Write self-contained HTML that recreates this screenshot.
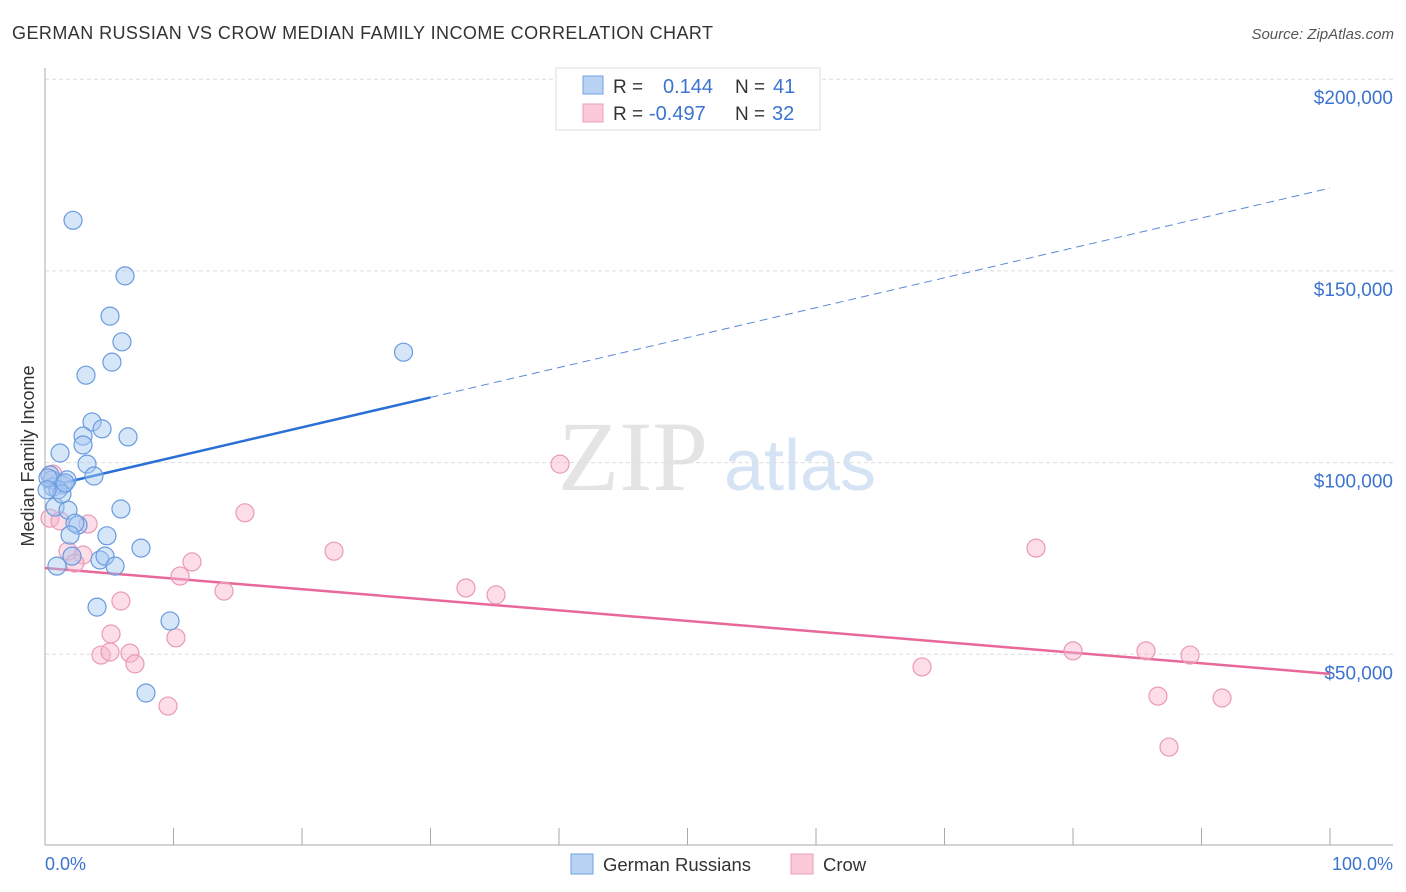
<!DOCTYPE html>
<html><head><meta charset="utf-8"><style>
body{margin:0;background:#fff;font-family:"Liberation Sans",sans-serif;}
#wrap{position:relative;width:1406px;height:892px;overflow:hidden;}
</style></head><body>
<div id="wrap">
<svg id="svg" width="1406" height="892" xmlns="http://www.w3.org/2000/svg">
<text x="12" y="39" font-size="18" fill="#333" textLength="701">GERMAN RUSSIAN VS CROW MEDIAN FAMILY INCOME CORRELATION CHART</text>
<text x="1394" y="39" font-size="15" fill="#555" font-style="italic" text-anchor="end">Source: ZipAtlas.com</text>
<text x="633" y="490" font-size="100" fill="#e4e4e4" font-family="Liberation Serif,serif" text-anchor="middle">ZIP</text>
<text x="800" y="490" font-size="72" fill="#d6e3f5" text-anchor="middle">atlas</text>
<text transform="translate(34,456) rotate(-90)" font-size="18" fill="#333" text-anchor="middle">Median Family Income</text>
<g id="grid"></g><g id="axes"></g><g id="trend"></g><g id="pts"></g>
<g>
<rect x="556" y="68" width="264" height="62" fill="#fff" stroke="#ddd"/>
<rect x="583" y="76" width="20" height="18" fill="#b9d3f5" stroke="#6f9fe0"/>
<rect x="583" y="104" width="20" height="18" fill="#fbc9d8" stroke="#ec9fb8"/>
<text y="93" font-size="19" fill="#333"><tspan x="613">R =</tspan><tspan x="663" fill="#3b73d0" font-size="20">0.144</tspan><tspan x="735">N =</tspan><tspan x="773" fill="#3b73d0" font-size="20">41</tspan></text>
<text y="120" font-size="19" fill="#333"><tspan x="613">R =</tspan><tspan x="649" fill="#3b73d0" font-size="20">-0.497</tspan><tspan x="735">N =</tspan><tspan x="772" fill="#3b73d0" font-size="20">32</tspan></text>
</g>
<text x="45" y="870" font-size="18" fill="#3b73d0">0.0%</text>
<text x="1393" y="870" font-size="18" fill="#3b73d0" text-anchor="end">100.0%</text>
<rect x="571" y="854" width="22" height="20" fill="#b9d3f5" stroke="#6f9fe0"/>
<text x="603" y="871" font-size="18.5" fill="#333">German Russians</text>
<rect x="791" y="854" width="22" height="20" fill="#fbc9d8" stroke="#ec9fb8"/>
<text x="823" y="871" font-size="18.5" fill="#333">Crow</text>
</svg>
</div>
<script>
const yTicks=[50,100,150,200];
const yTickLabels=["$50,000","$100,000","$150,000","$200,000"];
const blueX=[2.18,6.23,5.06,5.99,5.21,3.19,27.9,3.66,4.44,2.96,2.96,6.46,1.17,3.27,3.81,0.54,1.40,0.62,0.39,1.71,1.01,0.78,1.79,5.91,2.57,2.33,1.95,4.82,7.47,2.10,0.93,4.28,4.67,5.45,4.05,9.73,7.86,0.23,1.32,0.16,1.56];
const blueY=[163.2,148.7,138.2,131.5,126.2,122.8,128.8,110.6,108.8,106.9,104.6,106.7,102.5,99.6,96.5,95.5,94.2,93.6,96.8,95.5,92.9,88.4,87.6,87.9,83.7,84.2,81.1,80.9,77.7,75.6,73.0,74.6,75.6,73.0,62.3,58.7,39.9,96.0,91.8,92.9,94.7];
const pinkX=[0.62,1.01,0.39,1.17,3.35,1.79,2.96,2.33,15.56,40.08,22.49,77.12,11.44,10.51,13.93,32.76,35.10,5.91,5.14,10.19,4.36,5.06,6.61,7.00,68.25,80.0,85.68,89.11,86.61,91.60,9.57,87.47];
const pinkY=[97.0,94.7,85.5,84.8,84.0,76.9,75.9,73.8,86.9,99.6,76.9,77.7,74.1,70.4,66.5,67.3,65.5,63.9,55.3,54.3,49.8,50.6,50.3,47.5,46.7,50.9,50.9,49.8,39.1,38.6,36.5,25.8];
const blueTrend=[93.6,171.6];
const pinkTrend=[72.5,44.9];
const NS="http://www.w3.org/2000/svg";
const X=v=>45+v*12.85;
const Y=v=>846-v*3.834;
function mk(tag,attrs,parent){const e=document.createElementNS(NS,tag);for(const k in attrs)e.setAttribute(k,attrs[k]);parent.appendChild(e);return e;}
const grid=document.getElementById('grid'),axes=document.getElementById('axes'),trend=document.getElementById('trend'),pts=document.getElementById('pts');
yTicks.forEach((t,i)=>{
 const l=mk('line',{x1:45,x2:1393,y1:Y(t),y2:Y(t),stroke:'#ddd','stroke-dasharray':'4,3'},grid);
 
 
 const tx=mk('text',{x:1393,y:Y(t)+25,'font-size':19,fill:'#3b73d0','text-anchor':'end'},grid);
 tx.textContent=yTickLabels[i];
 
 
});
let a=mk('line',{x1:45,x2:45,y1:68,y2:845,stroke:'#aaa'},axes);


a=mk('line',{x1:45,x2:1393,y1:845,y2:845,stroke:'#aaa'},axes);


for(let i=1;i<=10;i++){const t=mk('line',{x1:X(i*10),x2:X(i*10),y1:828,y2:845,stroke:'#aaa'},axes);
 
 }
const bAt=x=>blueTrend[0]+(blueTrend[1]-blueTrend[0])*x/100;
let tl=mk('line',{x1:X(0),y1:Y(bAt(0)),x2:X(30),y2:Y(bAt(30)),stroke:'#2a6fd6','stroke-width':2.5},trend);


tl=mk('line',{x1:X(30),y1:Y(bAt(30)),x2:X(100),y2:Y(bAt(100)),stroke:'#5a8ad6','stroke-width':1,'stroke-dasharray':'8,5'},trend);


tl=mk('line',{x1:X(0),y1:Y(pinkTrend[0]),x2:X(100),y2:Y(pinkTrend[1]),stroke:'#e8689a','stroke-width':2.5},trend);


pinkX.forEach((x,i)=>{const c=mk('circle',{cx:X(x),cy:Y(pinkY[i]),r:9,fill:'rgba(248,180,204,0.45)',stroke:'#e99ab6','stroke-width':1.2},pts);
 
 });
blueX.forEach((x,i)=>{const c=mk('circle',{cx:X(x),cy:Y(blueY[i]),r:9,fill:'rgba(165,200,242,0.45)',stroke:'#6a9ade','stroke-width':1.2},pts);
 
 });
</script>
</body></html>
